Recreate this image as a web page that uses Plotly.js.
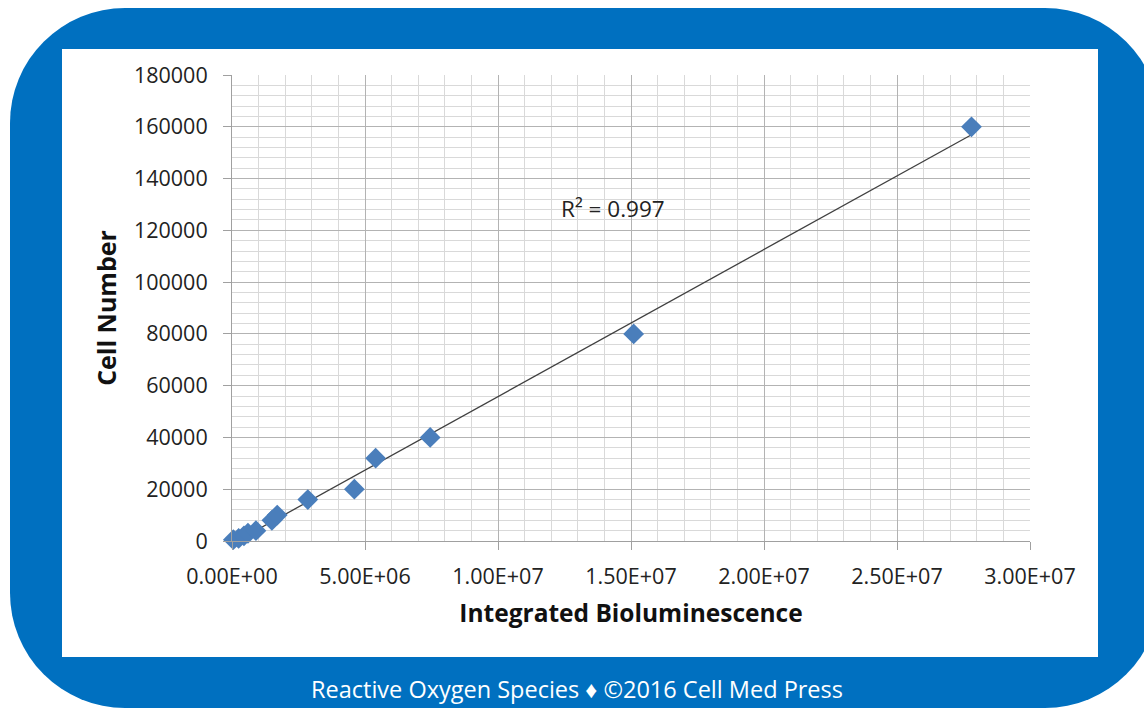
<!DOCTYPE html>
<html>
<head>
<meta charset="utf-8">
<script src="https://cdn.plot.ly/plotly-3.0.1.min.js"></script>
<style>
  html, body { margin:0; padding:0; background:#ffffff; width:1144px; height:709px; overflow:hidden; }
  #frame { position:absolute; left:10px; top:8px; width:1150px; height:700px; background:#0070c0; border-radius:115px; }
  #inner { position:absolute; left:62px; top:49px; width:1036px; height:608px; background:#ffffff; }
  #footer { position:absolute; left:0; top:673px; width:1154px; text-align:center; color:#ffffff;
            font-family:"Open Sans", sans-serif; font-size:23.5px; line-height:32px; }
  #chart { position:absolute; left:0; top:0; width:1144px; height:709px; }
</style>
</head>
<body>
<div id="frame"></div>
<div id="inner"></div>
<div id="footer">Reactive Oxygen Species ♦ ©2016 Cell Med Press</div>
<div id="chart"></div>
<script>
// Data
const bioluminescence = [0.5e5, 2.5e5, 4.5e5, 6.0e5, 9.0e5, 1.5e6, 1.7e6, 2.85e6, 4.6e6, 5.4e6, 7.45e6, 1.51e7, 2.78e7];
const cellNumber      = [500, 1000, 2000, 3000, 4000, 8000, 10000, 16000, 20000, 32000, 40000, 80000, 160000];
const xTickVals = [0, 5e6, 1e7, 1.5e7, 2e7, 2.5e7, 3e7];
const xTickText = ["0.00E+00", "5.00E+06", "1.00E+07", "1.50E+07", "2.00E+07", "2.50E+07", "3.00E+07"];
const rSquaredLabel = "R² = 0.997";

// Least squares linear trendline (as in the spreadsheet)
const n = bioluminescence.length;
const mx = bioluminescence.reduce((a,b)=>a+b,0)/n;
const my = cellNumber.reduce((a,b)=>a+b,0)/n;
let sxy = 0, sxx = 0;
for (let i=0;i<n;i++){ sxy += (bioluminescence[i]-mx)*(cellNumber[i]-my); sxx += (bioluminescence[i]-mx)**2; }
const slope = sxy/sxx, intercept = my - slope*mx;
const xMin = Math.min(...bioluminescence), xMax = Math.max(...bioluminescence);
const trendX = [xMin, xMax];
const trendY = trendX.map(x => slope*x + intercept);

const font = "Open Sans, sans-serif";
const data = [
  { x: trendX, y: trendY, mode: "lines", type: "scatter", line: {color:"#404040", width:1.3}, hoverinfo:"skip" },
  { x: bioluminescence, y: cellNumber, mode: "markers", type: "scatter", cliponaxis:false,
    marker: {symbol:"diamond", size:16, color:"#4a7ebb", line:{width:0}} }
];
const gridMajor = "#b3b3b3", gridMinor = "#d9d9d9";
const layout = {
  width:1144, height:709,
  paper_bgcolor:"rgba(0,0,0,0)", plot_bgcolor:"rgba(0,0,0,0)",
  margin:{l:232, r:114, t:75, b:168},
  showlegend:false,
  font:{family:font, color:"#222222"},
  xaxis:{
    range:[0,3e7], tickvals:xTickVals, ticktext:xTickText,
    tickfont:{size:21.5, family:font, color:"#222"},
    ticklabelstandoff:8,
    showgrid:true, gridcolor:gridMajor, gridwidth:1,
    minor:{dtick:1e6, tick0:0, showgrid:true, gridcolor:gridMinor, gridwidth:1},
    zeroline:false, showline:true, linecolor:"#a0a0a0", linewidth:1,
    ticks:"outside", ticklen:8, tickcolor:"#a0a0a0",
    title:{text:"<b>Integrated Bioluminescence</b>", font:{size:24.5, family:font, color:"#111"}, standoff:16},
    fixedrange:true
  },
  yaxis:{
    range:[0,180000], dtick:20000, tick0:0, tickformat:"d",
    tickfont:{size:21.5, family:font, color:"#222"},
    ticklabelstandoff:11,
    showgrid:true, gridcolor:gridMajor, gridwidth:1,
    minor:{dtick:4000, tick0:0, showgrid:true, gridcolor:gridMinor, gridwidth:1},
    zeroline:false, showline:true, linecolor:"#a0a0a0", linewidth:1,
    ticks:"outside", ticklen:8, tickcolor:"#a0a0a0",
    title:{text:"<b>Cell Number</b>", font:{size:25, family:font, color:"#111"}, standoff:10},
    fixedrange:true
  },
  annotations:[
    { x:1.23e7, y:128600, xref:"x", yref:"y", text:rSquaredLabel, showarrow:false,
      xanchor:"left", yanchor:"middle", font:{size:22.5, family:font, color:"#222"} }
  ]
};
Plotly.newPlot("chart", data, layout, {displayModeBar:false, staticPlot:true});
</script>
</body>
</html>
